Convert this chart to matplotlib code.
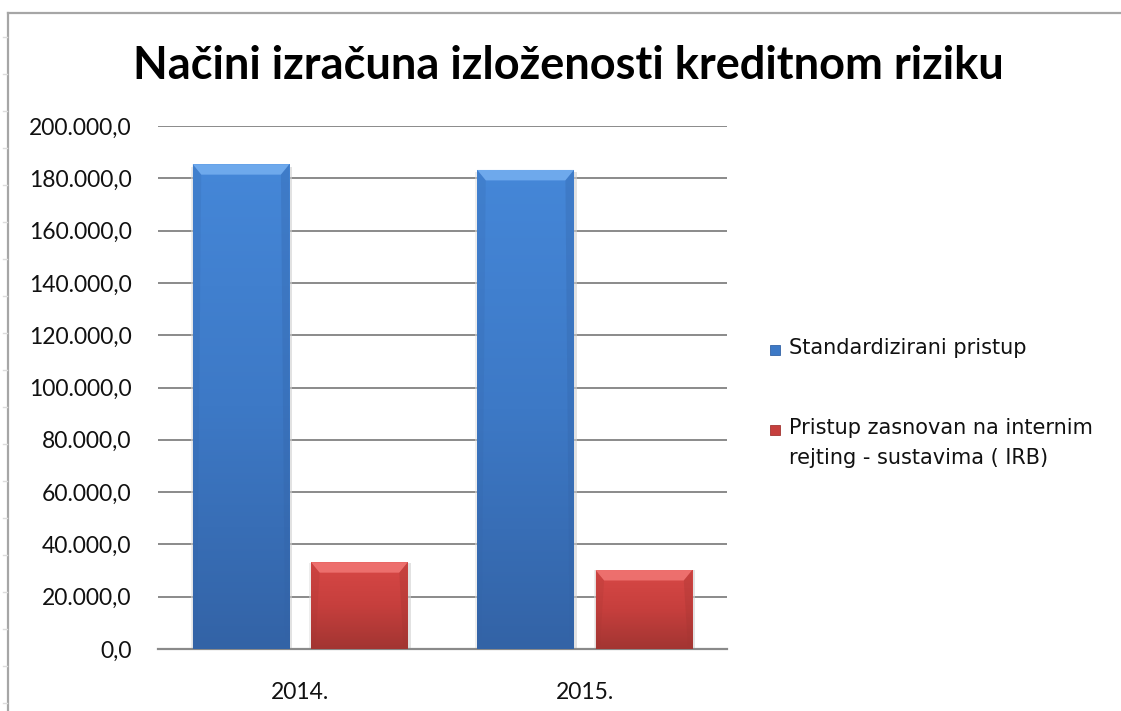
import numpy as np
import matplotlib
matplotlib.use("Agg")
import matplotlib.pyplot as plt
from matplotlib.colors import LinearSegmentedColormap
from matplotlib.patches import Polygon, Rectangle
from matplotlib.lines import Line2D

years = ["2014.", "2015."]
series_names = ["Standardizirani pristup",
                "Pristup zasnovan na internim\nrejting - sustavima ( IRB)"]
standard = [185400, 183200]
irb = [33200, 30200]
yticks = [0, 20000, 40000, 60000, 80000, 100000, 120000, 140000, 160000, 180000, 200000]

# top, middle, bottom, bevel colours
blue = ["#4587d8", "#3d79c6", "#3363a6", "#79b2f2"]
red = ["#d84846", "#c63f3d", "#a23532", "#f37a78"]

W, H = 1121, 711
fig = plt.figure(figsize=(W / 100, H / 100), dpi=100)
fig.patch.set_facecolor("white")

def fx(px):
    return px / W

def fy(py):
    return 1 - py / H

ax = fig.add_axes([fx(158), fy(649), fx(727) - fx(158), fy(126) - fy(649)])

x = np.arange(len(years))
width = 0.34
off = 0.208

bars1 = ax.bar(x - off, standard, width, color=blue[1], zorder=2)
bars2 = ax.bar(x + off, irb, width, color=red[1], zorder=2)

ax.set_xlim(-0.5, len(years) - 0.5)
ax.set_ylim(0, 200000)


def shade(bars, cols):
    cmap = LinearSegmentedColormap.from_list("g", [cols[2], cols[1], cols[0]])
    grad = np.linspace(0, 1, 256).reshape(-1, 1)
    for b in bars:
        x0, w, h = b.get_x(), b.get_width(), b.get_height()
        im = ax.imshow(grad, extent=[x0, x0 + w, 0, h], origin="lower",
                       aspect="auto", cmap=cmap, zorder=3)
        im.set_clip_path(b)
        # soft shadow round the bar
        ax.add_patch(Rectangle((x0 + w, 0), 0.01, h * 0.995, color="#cfcfcf",
                               alpha=0.6, zorder=1.5, lw=0))
        ax.add_patch(Rectangle((x0 - 0.007, 0), 0.007, h * 0.995, color="#dcdcdc",
                               alpha=0.5, zorder=1.5, lw=0))
        dx = 0.03
        dy = 4000
        ax.add_patch(Polygon([(x0, h), (x0 + w, h), (x0 + w - dx, h - dy),
                              (x0 + dx, h - dy)], closed=True,
                             color=cols[3], alpha=0.8, zorder=4, lw=0))
        ax.add_patch(Polygon([(x0, h), (x0 + dx, h - dy), (x0 + dx * 0.5, 0),
                              (x0, 0)], closed=True, color=cols[2], alpha=0.2,
                             zorder=4, lw=0))
        ax.add_patch(Polygon([(x0 + w, h), (x0 + w - dx, h - dy),
                              (x0 + w - dx * 0.5, 0), (x0 + w, 0)], closed=True,
                             color=cols[2], alpha=0.3, zorder=4, lw=0))


shade(bars1, blue)
shade(bars2, red)

ax.set_xlim(-0.5, len(years) - 0.5)
ax.set_ylim(0, 200000)

ax.set_yticks(yticks)
ax.set_yticklabels([f"{v:,.1f}".replace(",", "X").replace(".", ",").replace("X", ".")
                    for v in yticks])
ax.set_xticks(x)
ax.set_xticklabels(years)
ax.yaxis.grid(True, color="#8a8a8a", lw=1.4, zorder=0)
ax.set_axisbelow(True)
ax.tick_params(axis="both", length=0, labelsize=16.5, colors="#111111")
ax.tick_params(axis="y", pad=19)
ax.tick_params(axis="x", pad=24)
for lab in ax.get_xticklabels() + ax.get_yticklabels():
    lab.set_fontfamily("Lato")
for s in ["top", "right", "left"]:
    ax.spines[s].set_visible(False)
ax.spines["bottom"].set_color("#8a8a8a")
ax.spines["bottom"].set_linewidth(1.6)

fig.text(fx(568), fy(66), "Načini izračuna izloženosti kreditnom riziku",
         ha="center", va="center", fontsize=32.5, fontweight="bold",
         family="Lato", color="black")

# legend
leg_y = [350, 430]
for name, cols, py in zip(series_names, [blue, red], leg_y):
    fig.patches.append(Rectangle((fx(770), fy(py + 5)), fx(10), 10 / H,
                                 transform=fig.transFigure, facecolor=cols[1],
                                 edgecolor=cols[2], lw=0.6))
    fig.text(fx(789), fy(py - 12), name, ha="left", va="top", fontsize=15,
             family="DejaVu Sans", color="#111111", linespacing=1.6)

# chart border
fig.add_artist(Line2D([fx(8), 1], [fy(13), fy(13)], color="#a6a6a6", lw=1.6))
fig.add_artist(Line2D([fx(8), fx(8)], [fy(13), 0], color="#a6a6a6", lw=1.6))
for py in range(37, H, 37):
    fig.add_artist(Line2D([fx(3), fx(7)], [fy(py), fy(py)], color="#dcdcdc", lw=1))

fig.savefig("out.png", dpi=100)
